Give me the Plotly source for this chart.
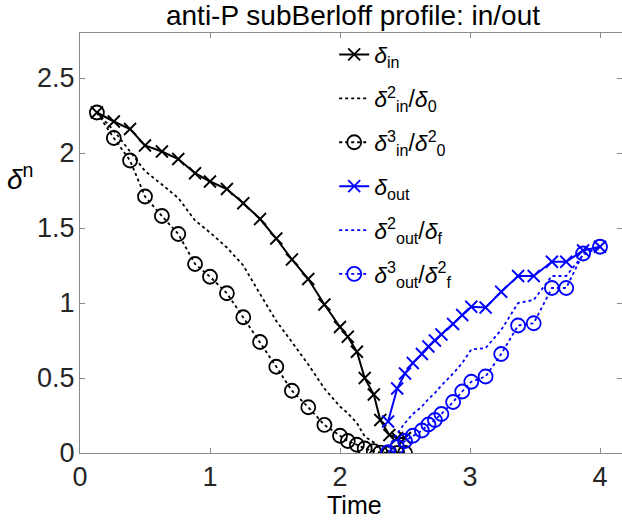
import plotly.graph_objects as go

# inward profile (black)
t_in = [0.13, 0.26, 0.385, 0.50, 0.63, 0.756, 0.885, 1.00, 1.13, 1.256, 1.385, 1.51,
        1.63, 1.756, 1.88, 2.00, 2.06, 2.13, 2.19, 2.26, 2.31, 2.38, 2.44, 2.50]
d_in = [2.27, 2.21, 2.16, 2.05, 2.01, 1.96, 1.865, 1.81, 1.76, 1.665, 1.56, 1.43,
        1.29, 1.16, 0.99, 0.84, 0.775, 0.675, 0.50, 0.39, 0.22, 0.12, 0.10, 0.10]
d2_in = [2.27, 2.15, 2.01, 1.88, 1.79, 1.70, 1.55, 1.47, 1.37, 1.25, 1.06, 0.88,
         0.74, 0.59, 0.43, 0.31, 0.265, 0.20, 0.11, 0.07, 0.02, 0.01, 0.005, 0.004]
d3_in = [2.27, 2.10, 1.95, 1.71, 1.58, 1.46, 1.26, 1.175, 1.065, 0.905, 0.74, 0.575,
         0.415, 0.305, 0.187, 0.115, 0.08, 0.055, 0.03, 0.012, 0.003, 0.0, 0.0, 0.0]

# outward profile (blue)
t_out = [2.37, 2.44, 2.50, 2.56, 2.63, 2.68, 2.73, 2.78, 2.87, 2.94, 3.01, 3.12,
         3.24, 3.37, 3.49, 3.63, 3.74, 3.87, 4.00]
d_out = [0.21, 0.43, 0.53, 0.60, 0.66, 0.71, 0.75, 0.79, 0.86, 0.92, 0.975, 0.97,
         1.075, 1.18, 1.18, 1.275, 1.275, 1.35, 1.375]
d2_out = [0.035, 0.13, 0.20, 0.26, 0.31, 0.36, 0.40, 0.45, 0.53, 0.60, 0.69, 0.70,
          0.82, 1.00, 1.02, 1.18, 1.18, 1.32, 1.375]
d3_out = [0.005, 0.04, 0.08, 0.115, 0.15, 0.19, 0.22, 0.26, 0.34, 0.41, 0.475, 0.51,
          0.66, 0.85, 0.865, 1.10, 1.10, 1.33, 1.375]

x_ticks = [0, 1, 2, 3, 4]
y_ticks = [0, 0.5, 1, 1.5, 2, 2.5]
y_ticktext = ["0", "0.5", "1", "1.5", "2", "2.5"]

BLACK = "#000000"
BLUE = "#0000ff"
AXIS = "#8a8a8a"
TXT = "#262626"
FONT = "Liberation Sans, Arial, sans-serif"
DOT = "3px,3px"

series = [
    (t_in, d_in, "<i>δ</i><sub>in</sub>", BLACK, "solid", "x-thin-open"),
    (t_in, d2_in, "<i>δ</i><sup>2</sup><sub>in</sub>/<i>δ</i><sub>0</sub>", BLACK, DOT, None),
    (t_in, d3_in, "<i>δ</i><sup>3</sup><sub>in</sub>/<i>δ</i><sup>2</sup><sub>0</sub>", BLACK, DOT, "circle-open"),
    (t_out, d_out, "<i>δ</i><sub>out</sub>", BLUE, "solid", "x-thin-open"),
    (t_out, d2_out, "<i>δ</i><sup>2</sup><sub>out</sub>/<i>δ</i><sub>f</sub>", BLUE, DOT, None),
    (t_out, d3_out, "<i>δ</i><sup>3</sup><sub>out</sub>/<i>δ</i><sup>2</sup><sub>f</sub>", BLUE, DOT, "circle-open"),
]

fig = go.Figure()
for i, (x, y, name, color, dash, sym) in enumerate(series):
    if sym is None:
        mode = "lines"
        marker = None
    else:
        mode = "lines+markers"
        size = 12 if sym.startswith("x") else 14
        marker = dict(symbol=sym, size=size, color=color, line=dict(color=color, width=1.8))
    fig.add_trace(go.Scatter(
        x=x, y=y, name=name, mode=mode, legendgroup=f"g{i}",
        line=dict(color=color, width=2 if dash == "solid" else 1.8, dash=dash),
        marker=marker,
    ))

fig.update_layout(
    width=622, height=522,
    margin=dict(l=80, r=0, t=33, b=69, autoexpand=False),
    paper_bgcolor="white", plot_bgcolor="white",
    font=dict(family=FONT, size=27, color=TXT),
    title=dict(text="anti-P subBerloff profile: in/out", x=353 / 622, xref="container", xanchor="center",
               y=1 - 15 / 522, yref="container", yanchor="middle", automargin=False,
               font=dict(size=28, color=BLACK)),
    legend=dict(x=0.469, y=1.0, xanchor="left", yanchor="top", bgcolor="rgba(0,0,0,0)",
                font=dict(size=23, color=BLACK), itemwidth=30, tracegroupgap=11),
    showlegend=True,
    annotations=[
        dict(text="Time", x=0.507, y=-0.124, xref="paper", yref="paper", showarrow=False,
             xanchor="center", yanchor="middle", font=dict(size=25, color=BLACK)),
        dict(text="<i>δ</i><sup>n</sup>", x=-0.11, y=0.658, xref="paper", yref="paper", showarrow=False,
             xanchor="center", yanchor="middle", font=dict(size=28, color=BLACK)),
    ],
)
fig.update_xaxes(range=[0, 542 / 130], tickvals=x_ticks, ticks="inside", ticklen=5, tickcolor=AXIS,
                 showline=True, linecolor=AXIS, linewidth=1, mirror="ticks", showgrid=False,
                 zeroline=False, ticklabelstandoff=0, automargin=False)
fig.update_yaxes(range=[0, 2.8], tickvals=y_ticks, ticktext=y_ticktext, ticks="inside", ticklen=5,
                 tickcolor=AXIS, showline=True, linecolor=AXIS, linewidth=1, mirror="ticks",
                 showgrid=False, zeroline=False, ticklabelstandoff=-1, automargin=False)

# drop the page's default body margin so the figure sits at the window's corner
fig.write_html("out.html", config={"displayModeBar": False},
               post_script="document.body.style.margin = '0';")
